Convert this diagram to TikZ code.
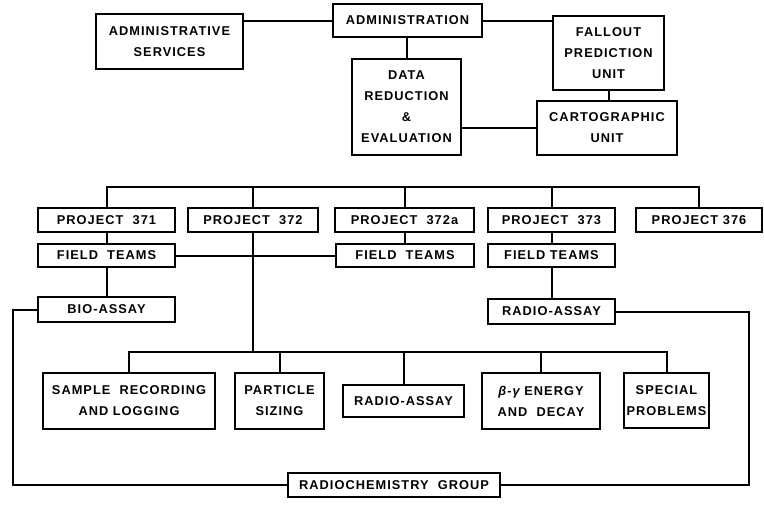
\documentclass[tikz,border=0pt]{standalone}
\usepackage{fontspec}
\newfontfamily\orgfont[LetterSpace=8]{Liberation Sans}

\begin{document}
\begin{tikzpicture}[x=1pt, y=-1pt,
  boite/.style={draw, line width=2pt, align=center, inner sep=0pt,
    font=\orgfont\bfseries\fontsize{12.8}{21}\selectfont},
  lien/.style={line width=2pt}]

  \useasboundingbox (0,0) rectangle (764,504);

  % 1. Direction et services rattachés
  \node[boite, minimum width=149pt, minimum height=33pt] (admin) at (407.5,20.5) {ADMINISTRATION};
  \node[boite, minimum width=147pt, minimum height=55pt] (services) at (169.5,41.5) {ADMINISTRATIVE\\SERVICES};
  \node[boite, minimum width=109pt, minimum height=96pt] (reduction) at (406.5,107) {DATA\\REDUCTION\\\&\\EVALUATION};
  \node[boite, minimum width=111pt, minimum height=74pt] (fallout) at (608.5,53) {FALLOUT\\PREDICTION\\UNIT};
  \node[boite, minimum width=140pt, minimum height=54pt] (carto) at (607,128) {CARTOGRAPHIC\\UNIT};

  \draw[lien] (admin.west) -- (admin.west -| services.east);
  \draw[lien] (admin.east) -- (admin.east -| fallout.west);
  \draw[lien] (admin.south) -- (admin.south -| reduction.north) -- (reduction.north);
  \draw[lien] (fallout.south) -- (fallout.south |- carto.north);
  \draw[lien] (carto.west) -- (carto.west -| reduction.east);

  % 2. Les projets
  \coordinate (bus) at (0,187);
  \node[boite, minimum width=137pt, minimum height=24pt] (p371) at (106.5,220) {PROJECT \ 371};
  \node[boite, minimum width=130pt, minimum height=24pt] (p372) at (253,220) {PROJECT \ 372};
  \node[boite, minimum width=139pt, minimum height=24pt] (p372a) at (404.5,220) {PROJECT \ 372a};
  \node[boite, minimum width=127pt, minimum height=24pt] (p373) at (551.5,220) {PROJECT \ 373};
  \node[boite, minimum width=126pt, minimum height=24pt] (p376) at (699,220) {PROJECT 376};

  \draw[lien] (p371.north) |- (p376.north |- bus) -- (p376.north);
  \foreach \p in {p372, p372a, p373}
    \draw[lien] (\p.north) -- (\p.north |- bus);

  % Equipes de terrain
  \node[boite, minimum width=137pt, minimum height=23pt] (terrain1) at (106.5,255.5) {FIELD \ TEAMS};
  \node[boite, minimum width=138pt, minimum height=23pt] (terrain2) at (405,255.5) {FIELD \ TEAMS};
  \node[boite, minimum width=127pt, minimum height=23pt] (terrain3) at (551.5,255.5) {FIELD TEAMS};
  \node[boite, minimum width=137pt, minimum height=25pt] (bio) at (106.5,309.5) {BIO-ASSAY};
  \node[boite, minimum width=127pt, minimum height=25pt] (radio) at (551.5,311.5) {RADIO-ASSAY};

  \draw[lien] (p371.south) -- (terrain1.north);
  \draw[lien] (terrain1.south) -- (bio.north);
  \draw[lien] (p372a.south) -- (p372a.south |- terrain2.north);
  \draw[lien] (p373.south) -- (terrain3.north);
  \draw[lien] (terrain3.south) -- (radio.north);
  \draw[lien] (terrain1.east) -- (terrain2.west);

  % 3. Sections du projet 372
  \coordinate (bas) at (0,352);
  \node[boite, minimum width=172pt, minimum height=56pt] (releve) at (129,401) {SAMPLE \ RECORDING\\AND LOGGING};
  \node[boite, minimum width=89pt, minimum height=56pt] (taille) at (279.5,401) {PARTICLE\\SIZING};
  \node[boite, minimum width=121pt, minimum height=32pt] (radio2) at (403.5,401) {RADIO-ASSAY};
  \node[boite, minimum width=118pt, minimum height=56pt] (energie) at (541,401) {{\itshape β-γ} ENERGY\\AND \ DECAY};
  \node[boite, minimum width=85pt, minimum height=55pt] (special) at (666.5,400.5) {SPECIAL\\PROBLEMS};

  \draw[lien] (p372.south) -- (p372.south |- bas);
  \draw[lien] (releve.north) |- (special.north |- bas) -- (special.north);
  \foreach \s in {taille, radio2, energie}
    \draw[lien] (\s.north) -- (\s.north |- bas);

  % 4. Groupe de radiochimie et retours
  \coordinate (gauche) at (13,0);
  \coordinate (droite) at (749,0);
  \node[boite, minimum width=212pt, minimum height=24pt] (radiochimie) at (394,485) {RADIOCHEMISTRY \ GROUP};

  \draw[lien] (bio.west) -- (bio.west -| gauche) |- (radiochimie.west);
  \draw[lien] (radio.east) -- (radio.east -| droite) |- (radiochimie.east);

\end{tikzpicture}
\end{document}
